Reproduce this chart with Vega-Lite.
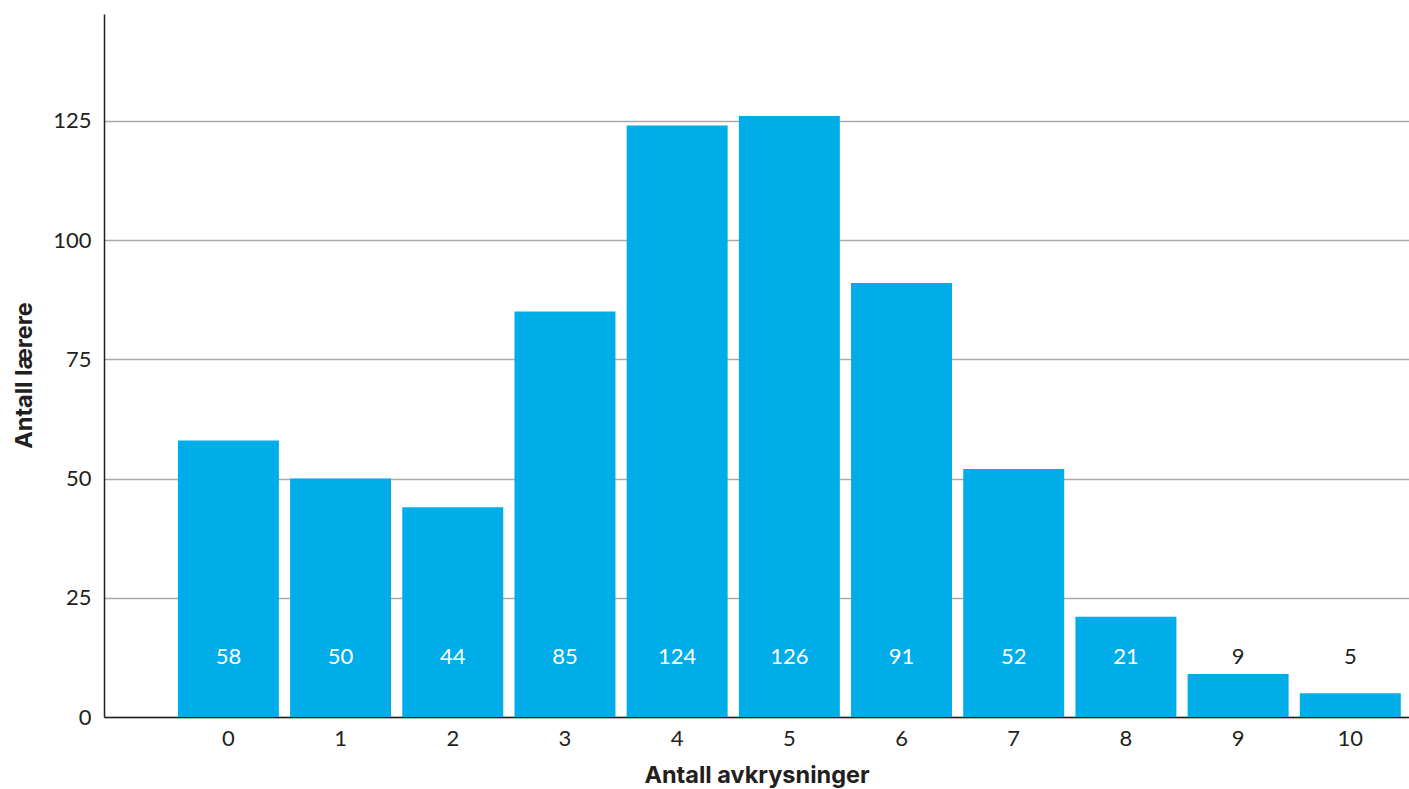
{
  "$schema": "https://vega.github.io/schema/vega-lite/v6.json",
  "width": 1305,
  "height": 703,
  "autosize": {"type": "none"},
  "padding": {"left": 104, "top": 14, "right": 0, "bottom": 72},
  "background": "white",
  "config": {"view": {"stroke": null}, "font": "Lato"},
  "data": {"values": [
    {"k": "0", "n": 58},
    {"k": "1", "n": 50},
    {"k": "2", "n": 44},
    {"k": "3", "n": 85},
    {"k": "4", "n": 124},
    {"k": "5", "n": 126},
    {"k": "6", "n": 91},
    {"k": "7", "n": 52},
    {"k": "8", "n": 21},
    {"k": "9", "n": 9},
    {"k": "10", "n": 5}
  ]},
  "encoding": {
    "x": {
      "field": "k", "type": "nominal", "sort": null,
      "scale": {"paddingInner": 0.1, "paddingOuter": 0.366, "align": 0.9},
      "axis": {
        "labelAngle": 0, "labelFontSize": 22, "labelColor": "#231f20", "labelPadding": 11,
        "ticks": false, "domainColor": "#231f20", "domainWidth": 1.5, "grid": false, "zindex": 0,
        "title": "Antall avkrysninger", "titleFont": "Inter", "titleFontSize": 23.5, "titleFontWeight": "bold",
        "titleColor": "#231f20", "titlePadding": 14
      }
    }
  },
  "layer": [
    {
      "mark": {"type": "bar", "color": "#00ADE8"},
      "encoding": {
        "y": {
          "field": "n", "type": "quantitative",
          "scale": {"domain": [0, 147.4], "nice": false},
          "axis": {
            "values": [0, 25, 50, 75, 100, 125], "grid": true, "gridColor": "#aaaaaa", "gridWidth": 1.5,
            "ticks": false, "domainColor": "#231f20", "domainWidth": 1.5, "zindex": 0,
            "labelFontSize": 22, "labelColor": "#231f20", "labelPadding": 13,
            "title": "Antall lærere", "titleFont": "Inter", "titleFontSize": 23.5, "titleFontWeight": "bold", "titleColor": "#231f20",
            "titleAngle": -90, "titleX": -73, "titleY": 361, "titleAlign": "center", "titleBaseline": "alphabetic"
          }
        }
      }
    },
    {
      "mark": {"type": "text", "fontSize": 22, "baseline": "middle", "align": "center"},
      "encoding": {
        "y": {"datum": 12.6, "type": "quantitative"},
        "text": {"field": "n", "type": "quantitative"},
        "color": {"condition": {"test": "datum.n < 15", "value": "#231f20"}, "value": "white"}
      }
    }
  ]
}
